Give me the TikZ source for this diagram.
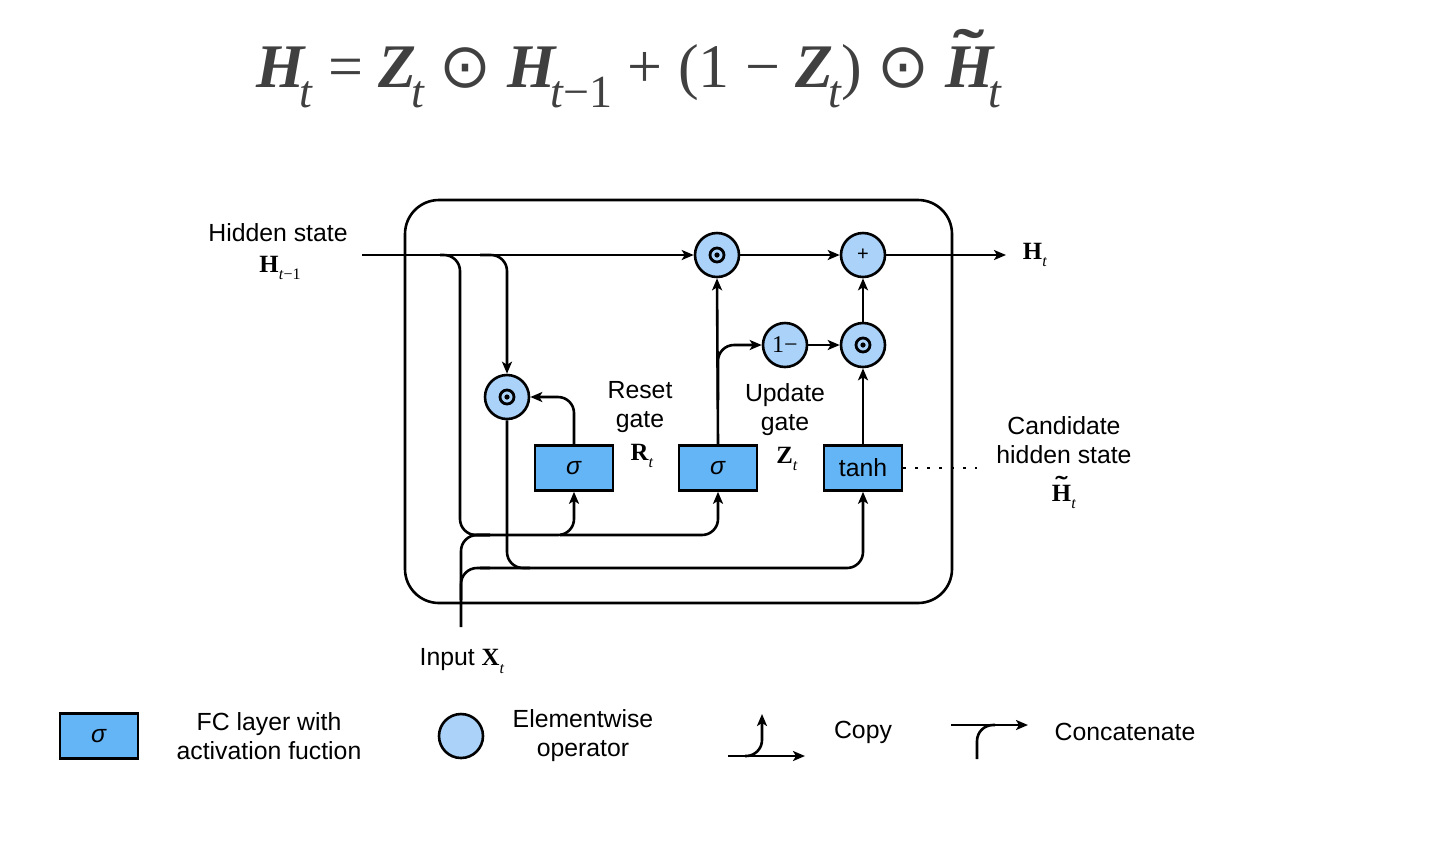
\RequirePackage{fix-cm}
\documentclass[tikz,border=0pt]{standalone}
\usepackage{amsmath}
\usepackage{fontspec}
\setmainfont{Liberation Sans}
\newfontfamily\tmsfont{Liberation Serif}
\newfontfamily\djvfont{DejaVu Sans}
\usetikzlibrary{arrows.meta}

% bold letter with a low italic index
\newcommand{\vlab}[2]{{\tmsfont\bfseries #1}\raisebox{-0.6ex}{\tmsfont\fontsize{8}{9}\selectfont #2}}
% letter with a wide tilde set above it
\newcommand{\tildeon}[2]{{\ooalign{#2\cr\hidewidth\raisebox{#1}{\scalebox{1.5}[1]{\upshape\bfseries ˜}}\hidewidth\cr}}}
% pieces of the update equation
\newcommand{\eqv}[1]{{\bfseries\itshape #1}}
\newcommand{\eqsub}[1]{\kern-0.08em\raisebox{-0.32em}{\fontsize{23}{26}\selectfont #1}}
\newcommand{\eqdot}{{\djvfont ⊙}}

\begin{document}
\begin{tikzpicture}[
    x=0.5pt, y=-0.5pt,
    every node/.style={font=\fontsize{12.4}{14.5}\selectfont},
    lbl/.style={align=center},
    line/.style={line width=1.3pt, rounded corners=8pt},
    arr/.style={line, -{Stealth[length=6pt, width=5pt, inset=1.5pt]}},
    fc/.style={draw, line width=1.3pt, fill=fcblue, minimum width=39pt, minimum height=22.5pt, inner sep=0pt},
    op/.style={draw, circle, line width=1.3pt, fill=opblue, minimum size=22pt, inner sep=0pt},
    mulop/.style={op, path picture={
        \draw[black, line width=1.4pt] (path picture bounding box.center) circle (3.5pt);
        \fill[black] (path picture bounding box.center) circle (1.3pt);}}
]
\definecolor{fcblue}{RGB}{100,181,246}   % FC layer boxes
\definecolor{opblue}{RGB}{171,211,250}   % elementwise operators
\definecolor{eqgray}{RGB}{64,64,64}      % equation text

\useasboundingbox (0,0) rectangle (1444,853);

% Update equation
\node[text=eqgray, font=\tmsfont\fontsize{31}{36}\selectfont] (eqn) at (629,76)
{\eqv{H}\eqsub{\itshape t} = \eqv{Z}\eqsub{\itshape t} \eqdot{} \eqv{H}\eqsub{\itshape t\upshape −1} + (1 − \eqv{Z}\eqsub{\itshape t}) \eqdot{} \tildeon{0.24em}{\eqv{H}}\eqsub{\itshape t}};

% Cell border
\draw[line width=1.3pt, rounded corners=17pt] (405,200) rectangle (952,603);

% Gates and operators
\node[fc] (resetfc) at (574,468) {\textit{σ}};
\node[fc] (updatefc) at (718,468) {\textit{σ}};
\node[fc] (candfc) at (863,468) {tanh};
\node[mulop] (resetmul) at (507,397) {};
\node[mulop] (updmul) at (717,255) {};
\node[op] (addop) at (863,255) {\fontsize{10}{12}\selectfont +};
\node[op] (oneminus) at (785,345) {\tmsfont\fontsize{12}{14}\selectfont 1−};
\node[mulop] (candmul) at (863,345) {};

% Inputs and output
\coordinate (hprev) at (362,255);
\coordinate (xin) at (461,627);
\coordinate (hout) at (1006,255);
\node[lbl] (hslab) at (278,233) {Hidden state};
\node (hprevlab) at (280,268) {\vlab{H}{\textit{t}−1}};
\node (houtlab) at (1035,255) {\vlab{H}{\textit{t}}};
\node (xinlab) at (462,661) {Input \vlab{X}{\textit{t}}};

% Labels of the gates
\node[lbl] (resetlab) at (640,407) {Reset\\gate};
\node (rlab) at (642,456) {\vlab{R}{\textit{t}}};
\node[lbl] (updlab) at (785,410) {Update\\gate};
\node (zlab) at (787,459) {\vlab{Z}{\textit{t}}};
\node[lbl] (candlab) at (1064,440) {Candidate\\hidden state};
\node (htlab) at (1064,497) {\vlab{\tildeon{0.32em}{H}}{\textit{t}}};

% Hidden state path
\draw[arr] (hprev) -- (updmul);
\draw[arr] (updmul) -- (addop);
\draw[arr] (addop) -- (hout);
\draw[arr] (480,255) -- (resetmul.north |- 0,255) -- (resetmul.north);
\draw[line] (440,255) -- (460,255) -- (460,535) -- (490,535);

% Concatenation with the input
\draw[line] (xin) -- (461,535) -- (490,535);
\draw[arr] (470,535) -- (resetfc.south |- 0,535) -- (resetfc.south);
\draw[arr] (560,535) -- (updatefc.south |- 0,535) -- (updatefc.south);
\draw[line] (461,600) -- (461,568) -- (490,568);
\draw[line] (resetmul.south) -- (507,568) -- (530,568);
\draw[arr] (480,568) -- (candfc.south |- 0,568) -- (candfc.south);

% Gate outputs
\draw[arr] (resetfc.north) -- (resetfc.north |- resetmul.east) -- (resetmul.east);
\draw[arr] (updatefc.north) -- (updmul.south);
\draw[arr] (718,400) -- (updatefc.north |- oneminus.west) -- (oneminus.west);
\draw[arr] (oneminus) -- (candmul);
\draw[arr] (candfc.north) -- (candmul.south);
\draw[arr] (candmul) -- (addop);
\draw[line width=1.3pt, dash pattern=on 1.5pt off 4.5pt] (candfc.east) -- (977,468);

% Legend
\node[fc] (legfc) at (99,736) {\textit{σ}};
\node[lbl] (legfclab) at (269,736) {FC layer with\\activation fuction};
\node[op] (legop) at (461,736) {};
\node[lbl] (legoplab) at (583,736) {Elementwise\\operator};
\coordinate (cpyin) at (728,756);
\coordinate (cpyout) at (805,756);
\coordinate (cpyup) at (762,714);
\draw[arr] (cpyin) -- (cpyout);
\draw[arr] (745,756) -- (cpyup |- cpyin) -- (cpyup);
\node (cpylab) at (863,732) {Copy};
\coordinate (catin) at (951,725);
\coordinate (catout) at (1028,725);
\coordinate (catlow) at (977,759);
\draw[arr] (catin) -- (catout);
\draw[line] (catlow) -- (catlow |- catin) -- (995,725);
\node (catlab) at (1125,732) {Concatenate};
\end{tikzpicture}
\end{document}
